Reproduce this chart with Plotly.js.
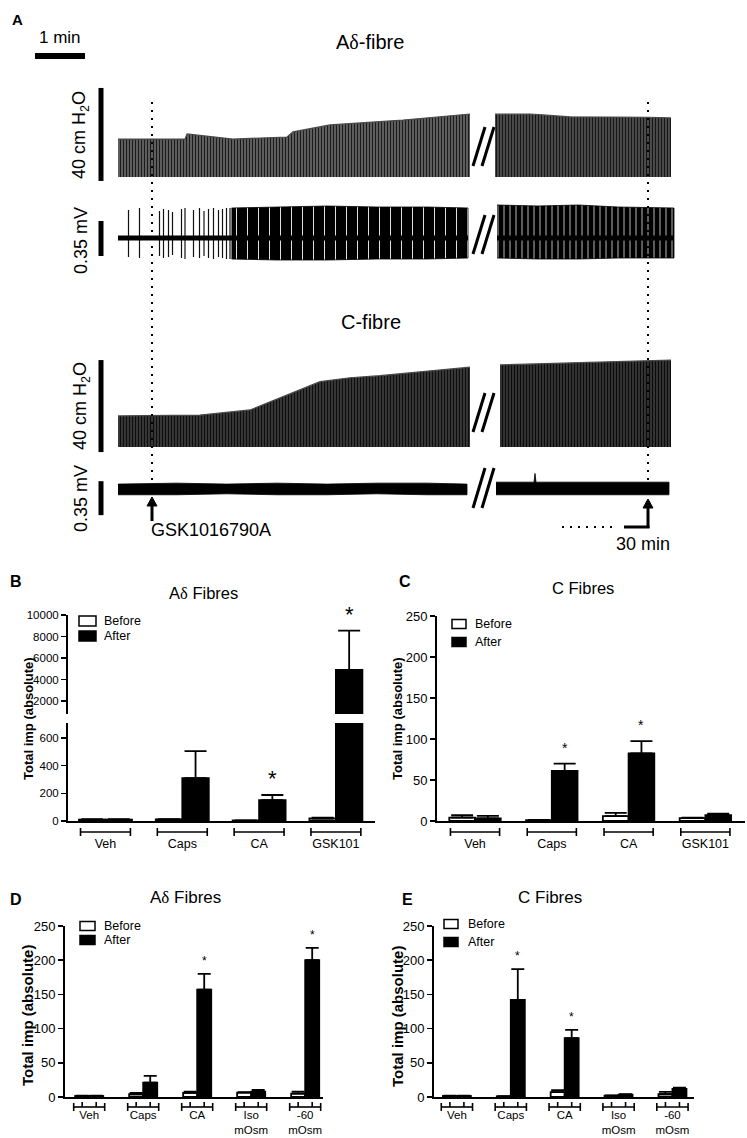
<!DOCTYPE html>
<html>
<head>
<meta charset="utf-8">
<script src="https://cdn.plot.ly/plotly-3.0.1.min.js"></script>
<style>
html,body{margin:0;padding:0;background:#ffffff;}
#fig{width:747px;height:1138px;}
</style>
</head>
<body>
<div id="fig"></div>
<script>
// ===================== DATA =====================
// ---- Panel A (times in min relative to GSK1016790A application, t = 0) ----
// A-delta fibre: intraluminal pressure envelope (cm H2O above baseline)
const adPressT1 = [-0.68, 0.66, 0.70, 1.62, 2.70, 2.82, 3.56, 4.56, 5.02, 5.70, 6.36];
const adPressV1 = [16.3, 16.3, 18.5, 16.3, 17.2, 19.4, 22.4, 23.7, 24.5, 25.8, 27.1];
const adPressT2 = [26.94, 27.64, 27.90, 28.44, 30.00, 30.46];
const adPressV2 = [27.0, 27.1, 26.7, 25.9, 25.7, 25.4];
// A-delta fibre: nerve activity (mV)
const adSpikeT   = [-0.47, -0.25, 0.15, 0.23, 0.33, 0.41, 0.59, 0.66, 0.83, 0.95, 1.04, 1.13, 1.23, 1.33, 1.41, 1.49, 1.56];
const adSpikeTop = [0.28, 0.30, 0.27, 0.29, 0.28, 0.26, 0.29, 0.30, 0.28, 0.30, 0.27, 0.29, 0.30, 0.28, 0.29, 0.30, 0.30];
const adSpikeBot = [-0.19, -0.20, -0.18, -0.20, -0.19, -0.17, -0.20, -0.21, -0.19, -0.20, -0.18, -0.20, -0.21, -0.19, -0.20, -0.21, -0.21];
const adBurstT1   = [1.59, 2.5, 3.5, 4.5, 5.5, 6.32];
const adBurstTop1 = [0.30, 0.31, 0.32, 0.31, 0.31, 0.30];
const adBurstBot1 = [-0.21, -0.22, -0.22, -0.21, -0.21, -0.20];
const adBurstT2   = [26.98, 27.8, 28.6, 29.4, 30.52];
const adBurstTop2 = [0.33, 0.32, 0.33, 0.31, 0.30];
const adBurstBot2 = [-0.20, -0.21, -0.21, -0.20, -0.20];
const adBaseT1 = [-0.68, 6.32];
const adBaseT2 = [26.98, 30.52];
// C fibre: intraluminal pressure envelope (cm H2O)
const cPressT1 = [-0.68, 0.96, 1.96, 2.36, 2.76, 3.36, 3.96, 4.56, 5.36, 6.36];
const cPressV1 = [13.5, 13.9, 16.1, 19.7, 23.3, 28.4, 30.1, 31.0, 32.7, 34.7];
const cPressT2 = [27.04, 28.74, 30.46];
const cPressV2 = [35.7, 36.6, 37.8];
// C fibre: nerve activity envelope (mV)
const cNerveT1   = [-0.68, 0.5, 1.5, 2.5, 3.5, 4.5, 5.5, 6.30];
const cNerveTop1 = [0.05, 0.06, 0.05, 0.06, 0.05, 0.06, 0.06, 0.05];
const cNerveBot1 = [-0.06, -0.06, -0.05, -0.06, -0.06, -0.05, -0.06, -0.06];
const cNerveT2   = [26.96, 27.72, 27.74, 27.76, 28.5, 29.5, 30.42];
const cNerveTop2 = [0.07, 0.07, 0.16, 0.07, 0.07, 0.07, 0.07];
const cNerveBot2 = [-0.06, -0.06, -0.06, -0.06, -0.06, -0.06, -0.06];

// ---- Bar charts ----
const seriesNames = ['Before', 'After'];
// B: A-delta fibres
const bCats = ['Veh', 'Caps', 'CA', 'GSK101'];
const bBefore    = [10, 12, 4, 18];
const bBeforeSem = [3, 2, 1, 6];
const bAfter     = [10, 310, 150, 4900];
const bAfterSem  = [3, 195, 38, 3650];
const bSig = [false, false, true, true];
const bTicksLow  = [0, 200, 400, 600];
const bTicksHigh = [2000, 4000, 6000, 8000, 10000];
// C: C fibres
const cCats = ['Veh', 'Caps', 'CA', 'GSK101'];
const cBefore    = [4, 1, 6, 3.5];
const cBeforeSem = [3, 0.3, 4, 0.5];
const cAfter     = [3.3, 61, 82.5, 7];
const cAfterSem  = [3, 9, 15, 2];
const cSig = [false, true, true, false];
const cTicks = [0, 50, 100, 150, 200, 250];
// D: A-delta fibres (osmolarity)
const dCats = ['Veh', 'Caps', 'CA', 'Iso<br>mOsm', '-60<br>mOsm'];
const dBefore    = [1.5, 4, 6, 6.5, 5];
const dBeforeSem = [0.5, 2, 2, 0.5, 3];
const dAfter     = [1.5, 21, 157, 8, 200];
const dAfterSem  = [0.5, 10, 23, 2.5, 18];
const dSig = [false, false, true, false, true];
const dTicks = [0, 50, 100, 150, 200, 250];
// E: C fibres (osmolarity)
const eCats = ['Veh', 'Caps', 'CA', 'Iso<br>mOsm', '-60<br>mOsm'];
const eBefore    = [1.5, 1, 7, 2, 4];
const eBeforeSem = [0.5, 0.3, 3, 0.5, 3.5];
const eAfter     = [1.5, 142, 86, 3.5, 12];
const eAfterSem  = [0.5, 45, 12, 0.5, 1.5];
const eSig = [false, true, true, false, false];
const eTicks = [0, 50, 100, 150, 200, 250];

// ===================== LAYOUT HELPERS =====================
const W = 747, H = 1138;
const FONT = 'Liberation Sans, Arial, Helvetica, sans-serif';
const SERIF = 'Liberation Serif, Times New Roman, serif';
const px = v => v / W;
const py = v => 1 - v / H;
const delta = '<span style="font-family:' + SERIF + '">δ</span>';

const traces = [];
const shapes = [];
const annotations = [];
const layout = {
  width: W, height: H,
  margin: {l: 0, r: 0, t: 0, b: 0, pad: 0},
  paper_bgcolor: '#ffffff', plot_bgcolor: 'rgba(0,0,0,0)',
  font: {family: FONT, color: '#000', size: 13},
  showlegend: false, hovermode: false, barmode: 'overlay'
};

function hiddenAxis(domain, range) {
  return {domain: domain, range: range, visible: false, fixedrange: true, showgrid: false, zeroline: false};
}

// ---- Panel A axes ----
layout.xaxis  = Object.assign(hiddenAxis([px(110), px(472)], [-0.84, 6.40]), {anchor: 'y'});
layout.xaxis2 = Object.assign(hiddenAxis([px(495), px(680)], [26.94, 30.64]), {anchor: 'y'});
layout.yaxis  = Object.assign(hiddenAxis([py(185), py(60)], [-3.44, 50.32]), {anchor: 'x'});
layout.yaxis2 = Object.assign(hiddenAxis([py(275), py(195)], [-0.37, 0.43]), {anchor: 'x'});
layout.yaxis3 = Object.assign(hiddenAxis([py(456), py(340)], [-3.91, 46.52]), {anchor: 'x'});
layout.yaxis4 = Object.assign(hiddenAxis([py(520), py(462)], [-0.32, 0.278]), {anchor: 'x'});

function pressure(t, v, xa, ya, bg, fg) {
  traces.push({type: 'scatter', mode: 'lines', x: t, y: v, xaxis: xa, yaxis: ya,
    fill: 'tozeroy', fillcolor: bg, line: {color: '#4a4a4a', width: 1.2},
    fillpattern: {shape: '|', size: 3, solidity: 0.45, fgcolor: fg, bgcolor: bg},
    hoverinfo: 'skip'});
}
function band(t, top, bot, xa, ya, pattern) {
  const tr = {type: 'scatter', mode: 'lines', xaxis: xa, yaxis: ya,
    x: t.concat(t.slice().reverse()), y: top.concat(bot.slice().reverse()),
    fill: 'toself', fillcolor: '#000', line: {color: '#000', width: 0.8}, hoverinfo: 'skip'};
  if (pattern) tr.fillpattern = pattern;
  traces.push(tr);
}
function baseline(t, xa, ya, w) {
  traces.push({type: 'scatter', mode: 'lines', x: t, y: t.map(() => 0), xaxis: xa, yaxis: ya,
    line: {color: '#000', width: w}, hoverinfo: 'skip'});
}

pressure(adPressT1, adPressV1, 'x', 'y', '#6a6a6a', '#1c1c1c');
pressure(adPressT2, adPressV2, 'x2', 'y', '#555555', '#161616');
pressure(cPressT1, cPressV1, 'x', 'y3', '#3e3e3e', '#0e0e0e');
pressure(cPressT2, cPressV2, 'x2', 'y3', '#3a3a3a', '#0c0c0c');

// A-delta nerve
const spx = [], spy = [];
adSpikeT.forEach((t, i) => { spx.push(t, t, null); spy.push(adSpikeBot[i], adSpikeTop[i], null); });
traces.push({type: 'scatter', mode: 'lines', x: spx, y: spy, xaxis: 'x', yaxis: 'y2',
  line: {color: '#111', width: 1.2}, hoverinfo: 'skip'});
band(adBurstT1, adBurstTop1, adBurstBot1, 'x', 'y2',
  {shape: '|', size: 11, solidity: 0.08, fgcolor: '#ffffff', bgcolor: '#000000'});
band(adBurstT2, adBurstTop2, adBurstBot2, 'x2', 'y2',
  {shape: '|', size: 6, solidity: 0.12, fgcolor: '#ffffff', bgcolor: '#000000'});
baseline(adBaseT1, 'x', 'y2', 5);
baseline(adBaseT2, 'x2', 'y2', 5);
// C nerve
band(cNerveT1, cNerveTop1, cNerveBot1, 'x', 'y4', null);
band(cNerveT2, cNerveTop2, cNerveBot2, 'x2', 'y4', null);

// Panel A decorations
const blk = {color: '#000', width: 5};
shapes.push({type: 'line', xref: 'paper', yref: 'paper', x0: px(35), x1: px(85), y0: py(56), y1: py(56), line: {color: '#000', width: 6}});
shapes.push({type: 'line', xref: 'paper', yref: 'y',  x0: px(101), x1: px(101), y0: -1.7, y1: 38.3, line: blk});
shapes.push({type: 'line', xref: 'paper', yref: 'y2', x0: px(101), x1: px(101), y0: -0.18, y1: 0.17, line: blk});
shapes.push({type: 'line', xref: 'paper', yref: 'y3', x0: px(101), x1: px(101), y0: -2.2, y1: 37.8, line: blk});
shapes.push({type: 'line', xref: 'paper', yref: 'y4', x0: px(101), x1: px(101), y0: -0.27, y1: 0.08, line: blk});
// dotted markers: drug application (t=0) and 30 min later
const dotted = {color: '#000', width: 2, dash: '2px,6px'};
shapes.push({type: 'line', xref: 'x', yref: 'paper', x0: 0, x1: 0, y0: py(102), y1: py(482), line: dotted});
shapes.push({type: 'line', xref: 'x2', yref: 'paper', x0: 30, x1: 30, y0: py(102), y1: py(480), line: dotted});
// arrows (shaft + head)
function arrow(xref, t, yHead, yTail) {
  shapes.push({type: 'line', xref: xref, yref: 'paper', x0: t, x1: t, y0: py(yTail), y1: py(yHead + 6), line: {color: '#000', width: 3}});
  shapes.push({type: 'path', xref: xref, yref: 'paper', fillcolor: '#000', line: {color: '#000', width: 1},
    path: 'M' + (t - 0.1) + ',' + py(yHead + 9) + ' L' + (t + 0.1) + ',' + py(yHead + 9) + ' L' + t + ',' + py(yHead) + ' Z'});
}
arrow('x', 0, 497, 521);
arrow('x2', 30, 499, 528);
// 30-min L connector
shapes.push({type: 'line', xref: 'x2', yref: 'paper', x0: 29.52, x1: 30.03, y0: py(527), y1: py(527), line: {color: '#000', width: 3}});
shapes.push({type: 'line', xref: 'x2', yref: 'paper', x0: 28.28, x1: 29.40, y0: py(527), y1: py(527), line: dotted});
// axis break marks
[[127, 166], [215, 254], [393, 432], [468, 508]].forEach(r => {
  shapes.push({type: 'line', xref: 'paper', yref: 'paper', x0: px(473), y0: py(r[1]), x1: px(485), y1: py(r[0]), line: {color: '#000', width: 3}});
  shapes.push({type: 'line', xref: 'paper', yref: 'paper', x0: px(482), y0: py(r[1]), x1: px(494), y1: py(r[0]), line: {color: '#000', width: 3}});
});

function txt(text, x, y, size, extra) {
  annotations.push(Object.assign({text: text, x: px(x), y: py(y), xref: 'paper', yref: 'paper',
    showarrow: false, xanchor: 'center', yanchor: 'middle', font: {size: size, family: FONT, color: '#000'}}, extra || {}));
}
txt('<b>A</b>', 17, 20, 15);
txt('1 min', 60, 37, 17);
txt('A' + delta + '-fibre', 370, 42, 20);
txt('C-fibre', 371, 322, 20);
txt('40 cm H<sub>2</sub>O', 81, 135, 18, {textangle: -90});
txt('0.35 mV', 81, 241, 18, {textangle: -90});
txt('40 cm H<sub>2</sub>O', 81, 406, 18, {textangle: -90});
txt('0.35 mV', 81, 499, 18, {textangle: -90});
txt('30 min', 643, 544, 18);
annotations.push({text: 'GSK1016790A', x: 0, y: py(530), xref: 'x', yref: 'paper', xanchor: 'left', yanchor: 'middle',
  xshift: -3, showarrow: false, font: {size: 18, family: FONT, color: '#000'}});

// ===================== BAR PANELS =====================
function barPanel(d, c) {
  const yaxes = c.yaxes;
  yaxes.forEach(ya => {
    traces.push({type: 'bar', name: seriesNames[0], x: d.cats, y: d.before, xaxis: c.xa, yaxis: ya,
      width: c.w, offset: -c.w, marker: {color: '#fff', line: {color: '#000', width: 1.8}},
      error_y: {type: 'data', symmetric: false, array: d.beforeSem, arrayminus: d.beforeSem.map(() => 0),
        color: '#000', thickness: 1.8, width: c.cap}, hoverinfo: 'skip'});
    traces.push({type: 'bar', name: seriesNames[1], x: d.cats, y: d.after, xaxis: c.xa, yaxis: ya,
      width: c.w, offset: 0, marker: {color: '#000', line: {color: '#000', width: 1.8}},
      error_y: {type: 'data', symmetric: false, array: d.afterSem, arrayminus: d.afterSem.map(() => 0),
        color: '#000', thickness: 1.8, width: c.cap}, hoverinfo: 'skip'});
  });
  const xName = 'xaxis' + c.xa.slice(1);
  layout[xName] = {domain: [px(c.x0), px(c.x1)], range: c.xr, type: 'category', categoryarray: d.cats,
    anchor: yaxes[0], showline: true, linewidth: 2, linecolor: '#000', ticks: '', showgrid: false, zeroline: false,
    tickfont: {size: c.catFont, family: FONT, color: '#000'}, ticklabelstandoff: c.catStandoff, fixedrange: true};
  c.ydefs.forEach(yd => {
    layout['yaxis' + yd.id.slice(1)] = {domain: [py(yd.p0), py(yd.p1)], range: yd.range, tickvals: yd.ticks,
      tickformat: 'd', anchor: c.xa, showline: true, linewidth: 2, linecolor: '#000', ticks: 'outside',
      ticklen: 5, tickwidth: 1.5, tickcolor: '#000', showgrid: false, zeroline: false,
      tickfont: {size: c.tickFont, family: FONT, color: '#000'}, fixedrange: true};
  });
  // group brackets
  d.cats.forEach((cat, i) => {
    const L = {color: '#000', width: 1.6};
    shapes.push({type: 'line', xref: c.xa, yref: 'paper', x0: i - c.hb, x1: i + c.hb, y0: py(c.by), y1: py(c.by), line: L});
    [i - c.hb, i + c.hb].forEach(xx => shapes.push({type: 'line', xref: c.xa, yref: 'paper', x0: xx, x1: xx,
      y0: py(c.by - 4), y1: py(c.by + 4), line: L}));
    if (c.midTicks) [i - c.w / 2, i + c.w / 2].forEach(xx => shapes.push({type: 'line', xref: c.xa, yref: 'paper',
      x0: xx, x1: xx, y0: py(c.by), y1: py(c.by - 5), line: L}));
  });
  // significance asterisks
  d.sig.forEach((s, i) => {
    if (!s) return;
    const top = d.after[i] + d.afterSem[i];
    const ya = (c.splitAt !== undefined && top > c.splitAt) ? yaxes[1] : yaxes[0];
    annotations.push({text: '*', x: i + c.w / 2, y: top, xref: c.xa, yref: ya, yanchor: 'bottom', xanchor: 'center',
      yshift: c.starShift, showarrow: false, font: {size: c.starSize, family: FONT, color: '#000'}});
  });
  // legend
  const lg = c.legend;
  seriesNames.forEach((nm, k) => {
    const yc = lg.y[k];
    shapes.push({type: 'rect', xref: 'paper', yref: 'paper', x0: px(lg.x0), x1: px(lg.x1),
      y0: py(yc - lg.h / 2), y1: py(yc + lg.h / 2), fillcolor: k === 0 ? '#fff' : '#000', line: {color: '#000', width: 1.5}});
    txt(nm, lg.tx, yc, lg.size, {xanchor: 'left'});
  });
  txt(c.title, c.titleX, c.titleY, c.titleSize);
  txt('<b>' + c.letter + '</b>', c.letterX, c.letterY, 16);
  txt('<b>Total imp (absolute)</b>', c.ytX, c.ytY, c.ytSize, {textangle: -90});
}

barPanel({cats: bCats, before: bBefore, beforeSem: bBeforeSem, after: bAfter, afterSem: bAfterSem, sig: bSig},
  {xa: 'x3', yaxes: ['y6', 'y5'], splitAt: 708, x0: 68, x1: 375, xr: [-0.488, 3.509], w: 0.345, cap: 11, hb: 0.325,
   by: 832, midTicks: false, catFont: 12.5, catStandoff: 10, tickFont: 11.5,
   ydefs: [{id: 'y6', p0: 821, p1: 723, range: [0, 708], ticks: bTicksLow},
           {id: 'y5', p0: 714, p1: 615, range: [790, 10000], ticks: bTicksHigh}],
   starShift: 2, starSize: 22, legend: {x0: 79, x1: 96, h: 10, y: [621, 636], tx: 102, size: 12.5},
   title: 'A' + delta + ' Fibres', titleX: 203, titleY: 593, titleSize: 16.5,
   letter: 'B', letterX: 16, letterY: 581, ytX: 28, ytY: 719, ytSize: 13});

barPanel({cats: cCats, before: cBefore, beforeSem: cBeforeSem, after: cAfter, afterSem: cAfterSem, sig: cSig},
  {xa: 'x4', yaxes: ['y7'], x0: 437, x1: 745, xr: [-0.495, 3.516], w: 0.335, cap: 11, hb: 0.32,
   by: 832, midTicks: false, catFont: 12.5, catStandoff: 10, tickFont: 13,
   ydefs: [{id: 'y7', p0: 821, p1: 616, range: [0, 250], ticks: cTicks}],
   starShift: 6, starSize: 14, legend: {x0: 452, x1: 466, h: 9, y: [624, 642], tx: 473, size: 12.5},
   title: 'C Fibres', titleX: 583, titleY: 588, titleSize: 16.5,
   letter: 'C', letterX: 405, letterY: 581, ytX: 397, ytY: 718, ytSize: 13});

barPanel({cats: dCats, before: dBefore, beforeSem: dBeforeSem, after: dAfter, afterSem: dAfterSem, sig: dSig},
  {xa: 'x5', yaxes: ['y8'], x0: 65, x1: 323, xr: [-0.448, 4.33], w: 0.26, cap: 6.5, hb: 0.287,
   by: 1107, midTicks: true, catFont: 11.5, catStandoff: 6, tickFont: 13,
   ydefs: [{id: 'y8', p0: 1097, p1: 926, range: [0, 250], ticks: dTicks}],
   starShift: 4, starSize: 12, legend: {x0: 80, x1: 95, h: 9, y: [926, 940], tx: 102, size: 12.5},
   title: 'A' + delta + ' Fibres', titleX: 185, titleY: 897, titleSize: 17,
   letter: 'D', letterX: 16, letterY: 899, ytX: 27, ytY: 1016, ytSize: 15});

barPanel({cats: eCats, before: eBefore, beforeSem: eBeforeSem, after: eAfter, afterSem: eAfterSem, sig: eSig},
  {xa: 'x6', yaxes: ['y9'], x0: 434, x1: 694, xr: [-0.425, 4.40], w: 0.26, cap: 6.5, hb: 0.29,
   by: 1107, midTicks: true, catFont: 11.5, catStandoff: 6, tickFont: 13,
   ydefs: [{id: 'y9', p0: 1097, p1: 926, range: [0, 250], ticks: eTicks}],
   starShift: 4, starSize: 12, legend: {x0: 444, x1: 458, h: 9, y: [924, 942], tx: 466, size: 12.5},
   title: 'C Fibres', titleX: 550, titleY: 897, titleSize: 17,
   letter: 'E', letterX: 407, letterY: 899, ytX: 397, ytY: 1016, ytSize: 15});

layout.shapes = shapes;
layout.annotations = annotations;
Plotly.newPlot('fig', traces, layout, {displayModeBar: false, staticPlot: true});
</script>
</body>
</html>
